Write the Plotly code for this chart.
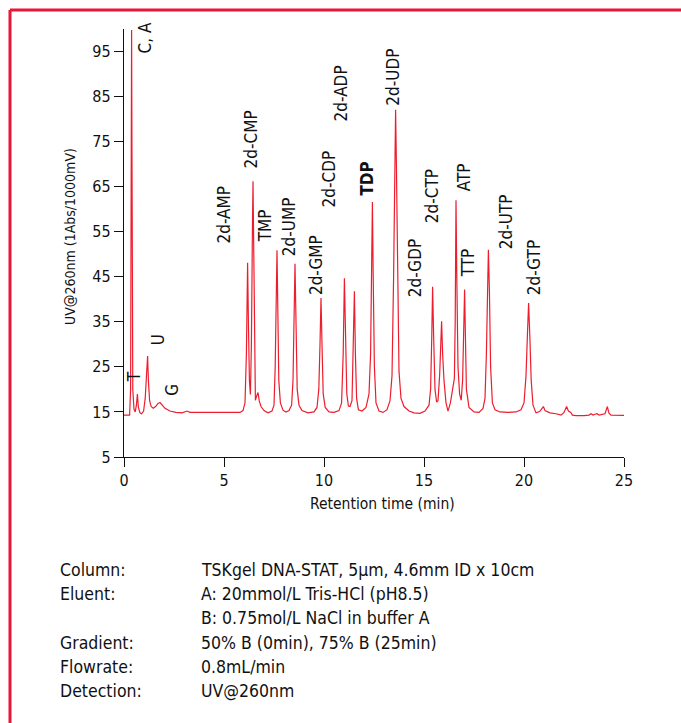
import plotly.graph_objects as go

# ---- data ----
time_min = [
    0.00, 0.28, 0.33, 0.36, 0.38, 0.40, 0.44, 0.50, 0.56, 0.62, 0.67, 0.72, 0.80, 0.88, 0.98,
    1.06, 1.12, 1.18, 1.22, 1.28, 1.36, 1.46, 1.58, 1.70, 1.80, 1.90, 2.05, 2.30, 2.60, 2.90,
    3.05, 3.15, 3.30, 4.00, 5.00, 5.80, 5.95, 6.05, 6.12, 6.18, 6.22, 6.27, 6.32, 6.37, 6.42,
    6.45, 6.49, 6.54, 6.57, 6.63, 6.70, 6.76, 6.85, 7.00, 7.20, 7.40, 7.50, 7.56, 7.61, 7.65,
    7.69, 7.74, 7.82, 7.95, 8.10, 8.25, 8.38, 8.45, 8.50, 8.55, 8.60, 8.66, 8.75, 8.90, 9.20,
    9.50, 9.65, 9.74, 9.80, 9.85, 9.90, 9.96, 10.06, 10.25, 10.50, 10.75, 10.88, 10.96, 11.02,
    11.07, 11.14, 11.22, 11.30, 11.40, 11.46, 11.52, 11.57, 11.63, 11.72, 11.90, 12.10, 12.25,
    12.33, 12.38, 12.42, 12.46, 12.52, 12.60, 12.75, 12.95, 13.15, 13.30, 13.40, 13.48, 13.55,
    13.58, 13.62, 13.68, 13.75, 13.85, 14.00, 14.25, 14.50, 14.80, 15.05, 15.25, 15.33, 15.39,
    15.43, 15.48, 15.55, 15.63, 15.70, 15.78, 15.84, 15.88, 15.93, 16.00, 16.10, 16.20, 16.32,
    16.44, 16.52, 16.56, 16.60, 16.64, 16.70, 16.78, 16.86, 16.93, 16.98, 17.03, 17.07, 17.12,
    17.25, 17.50, 17.75, 17.95, 18.05, 18.12, 18.18, 18.22, 18.27, 18.33, 18.42, 18.55, 18.80,
    19.20, 19.60, 19.85, 20.00, 20.10, 20.17, 20.23, 20.29, 20.36, 20.45, 20.60, 20.78, 20.90,
    20.97, 21.05, 21.30, 21.60, 21.85, 22.00, 22.13, 22.22, 22.28, 22.34, 22.42, 22.60, 23.00,
    23.25, 23.35, 23.45, 23.55, 23.65, 23.75, 23.90, 24.05, 24.17, 24.25, 24.35, 24.70, 25.00,
]
uv_signal = [
    14.3, 14.3, 20.0, 70.0, 99.8, 70.0, 20.0, 15.6, 15.0, 16.5, 19.0, 16.0, 14.8, 14.6, 15.2,
    18.0, 24.0, 27.4, 22.0, 17.5, 16.2, 15.8, 16.2, 16.9, 17.1, 16.6, 15.8, 15.2, 14.9, 14.8,
    15.1, 15.2, 14.9, 14.9, 14.9, 14.9, 15.3, 17.0, 28.0, 48.1, 35.0, 22.0, 18.9, 30.0, 55.0,
    66.2, 50.0, 25.0, 17.6, 18.5, 19.3, 17.5, 16.2, 15.3, 14.8, 15.2, 16.5, 25.0, 40.0, 50.9,
    38.0, 22.0, 17.0, 15.4, 15.0, 15.3, 16.5, 22.0, 35.0, 47.9, 35.0, 20.0, 16.5, 15.3, 14.8,
    15.0, 16.0, 20.0, 30.0, 40.3, 30.0, 19.0, 16.0, 15.0, 14.9, 15.3, 17.0, 28.0, 44.7,
    30.0, 19.0, 16.3, 16.2, 17.5, 27.0, 41.8, 28.0, 18.0, 15.5, 15.2, 16.0, 19.0,
    28.0, 45.0, 61.6, 45.0, 25.0, 17.0, 15.2, 14.9, 15.5, 17.5, 23.0, 45.0, 72.0,
    82.1, 70.0, 45.0, 24.0, 18.0, 16.2, 15.2, 14.8, 14.7, 15.2, 16.5, 20.0, 32.0,
    42.8, 32.0, 20.0, 17.2, 17.5, 23.0, 30.0, 35.1, 28.0, 22.0, 17.0, 15.2, 17.0,
    20.0, 22.5, 35.0, 62.0, 45.0, 25.0, 19.0, 17.6, 22.0, 33.0, 42.2, 32.0, 20.0,
    16.0, 15.0, 14.9, 15.8, 18.0, 28.0, 42.0, 51.0, 42.0, 25.0, 17.0, 15.5, 15.0,
    14.9, 15.0, 15.5, 17.0, 23.0, 32.0, 39.2, 32.0, 22.0, 16.5, 14.8, 15.1, 15.8,
    16.2, 15.3, 14.8, 14.6, 14.3, 14.9, 16.2, 15.2, 15.0, 14.9, 14.3, 14.2, 14.2,
    14.3, 14.6, 14.3, 14.5, 14.6, 14.3, 14.4, 14.6, 16.2, 14.7, 14.3, 14.3, 14.25,
]

peak_labels = ["C, A", "T", "U", "G", "2d-AMP", "2d-CMP", "TMP", "2d-UMP", "2d-GMP",
               "2d-CDP", "2d-ADP", "<b>TDP</b>", "2d-UDP", "2d-GDP", "2d-CTP", "ATP",
               "TTP", "2d-UTP", "2d-GTP"]
label_time = [1.05, 0.50, 1.70, 2.40, 5.00, 6.35, 7.05, 8.25, 9.60,
              10.25, 10.85, 12.15, 13.45, 14.55, 15.40, 17.00, 17.20, 19.10, 20.50]
label_uv = [97.9, 22.7, 30.9, 19.9, 58.6, 75.5, 56.2, 56.0, 47.6,
            66.6, 85.7, 66.8, 89.2, 46.9, 62.9, 67.1, 48.0, 57.1, 46.9]

x_ticks = [0, 5, 10, 15, 20, 25]
y_ticks = [5, 15, 25, 35, 45, 55, 65, 75, 85, 95]

cond_keys = ["Column:", "Eluent:", "", "Gradient:", "Flowrate:", "Detection:"]
cond_vals = ["TSKgel DNA-STAT, 5µm, 4.6mm ID x 10cm",
             "A: 20mmol/L Tris-HCl (pH8.5)",
             "B: 0.75mol/L NaCl in buffer A",
             "50% B (0min), 75% B (25min)",
             "0.8mL/min",
             "UV@260nm"]

# ---- layout geometry ----
W, H = 681, 723
L, R, T, B = 124, 57, 29, 266
PW, PH = W - L - R, H - T - B
FONT = "DejaVu Sans Condensed, Liberation Sans Narrow, Arial Narrow, sans-serif"
RED = "#ee1d2e"
FRAME = "#e8173a"
INK = "#111"


def px_x(px):
    return (px - L) / PW


def px_y(py):
    return (H - B - py) / PH


fig = go.Figure()
fig.add_trace(go.Scatter(x=time_min, y=uv_signal, mode="lines",
                         line=dict(color=RED, width=1.2), hoverinfo="skip",
                         cliponaxis=False))

annotations = []
for lab, tx, ty in zip(peak_labels, label_time, label_uv):
    annotations.append(dict(x=tx, y=ty, xref="x", yref="y", text=lab, textangle=-90,
                            showarrow=False, xanchor="center", yanchor="middle",
                            font=dict(family=FONT, size=17, color=INK)))

annotations.append(dict(x=px_x(382), y=px_y(504), xref="paper", yref="paper",
                        text="Retention time (min)", showarrow=False,
                        xanchor="center", yanchor="middle",
                        font=dict(family=FONT, size=15.5, color=INK)))
annotations.append(dict(x=px_x(70), y=px_y(237), xref="paper", yref="paper",
                        text="UV@260nm (1Abs/1000mV)", textangle=-90, showarrow=False,
                        xanchor="center", yanchor="middle",
                        font=dict(family=FONT, size=14, color=INK)))

for i, (k, v) in enumerate(zip(cond_keys, cond_vals)):
    yy = px_y(570 + 24.2 * i)
    if k:
        annotations.append(dict(x=px_x(58), y=yy, xref="paper", yref="paper", text=k,
                                showarrow=False, xanchor="left", yanchor="middle",
                                font=dict(family=FONT, size=17.5, color=INK)))
    annotations.append(dict(x=px_x(199), y=yy, xref="paper", yref="paper", text=v,
                            showarrow=False, xanchor="left", yanchor="middle",
                            font=dict(family=FONT, size=17.5, color=INK)))

shapes = [
    dict(type="line", xref="paper", yref="paper", x0=px_x(10), x1=px_x(W + 5),
         y0=px_y(10), y1=px_y(10), line=dict(color=FRAME, width=3)),
    dict(type="line", xref="paper", yref="paper", x0=px_x(10), x1=px_x(10),
         y0=px_y(10), y1=px_y(H + 5), line=dict(color=FRAME, width=3)),
]

axis_common = dict(showgrid=False, zeroline=False, showline=True, linecolor=INK,
                   linewidth=1.3, ticks="outside", ticklen=9, tickwidth=1.2,
                   tickcolor=INK, tickfont=dict(family=FONT, size=16, color=INK))

fig.update_layout(
    width=W, height=H,
    margin=dict(l=L, r=R, t=T, b=B),
    paper_bgcolor="white", plot_bgcolor="white",
    showlegend=False,
    xaxis=dict(range=[0, 25], tickvals=x_ticks, **axis_common),
    yaxis=dict(range=[5, 100], tickvals=y_ticks, **axis_common),
    annotations=annotations,
    shapes=shapes,
)

fig.write_html("out.html",
               config={"displayModeBar": False},
               post_script="document.body.style.margin='0';"
                           "document.body.style.overflow='hidden';")
